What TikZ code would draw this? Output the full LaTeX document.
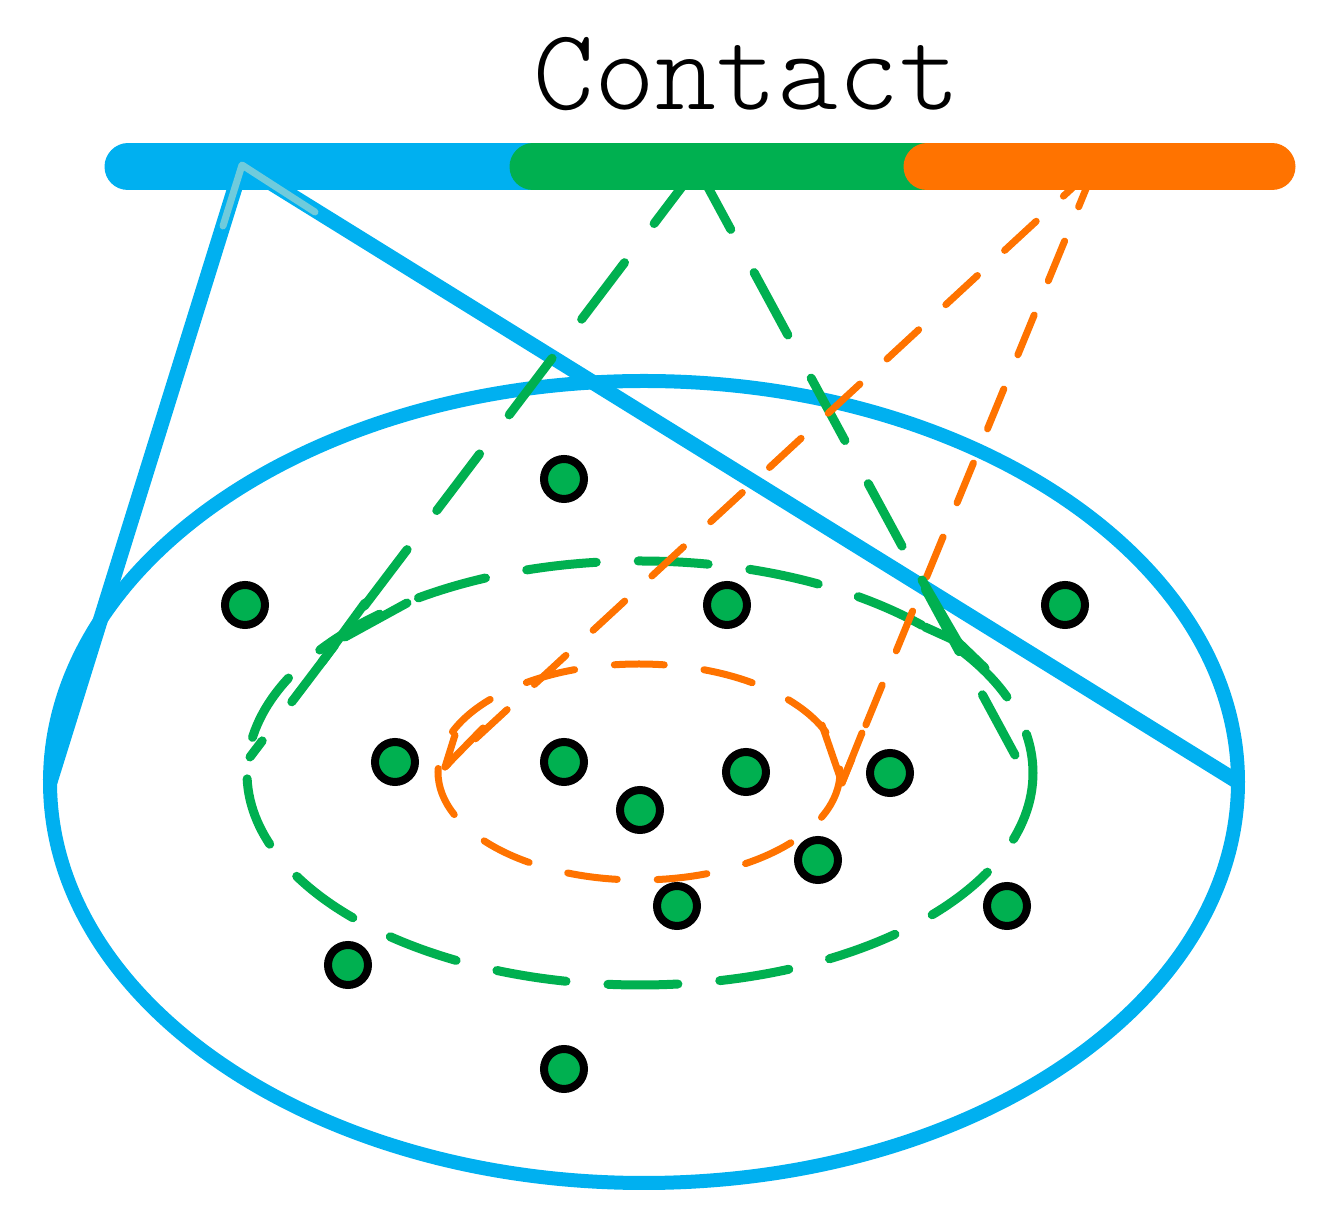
\documentclass[tikz,border=0pt]{standalone}
\usepackage{fontspec}
\newfontfamily\titlefont{lmmonolt10-regular.otf}
\definecolor{skyblue}{HTML}{00B0F0}
\definecolor{leafgreen}{HTML}{00B050}
\definecolor{flame}{HTML}{FF7300}
\definecolor{paleblue}{HTML}{6FCBDC}
\begin{document}
\begin{tikzpicture}[x=0.5pt, y=-0.5pt,
    sensor/.style ={circle, draw=black, fill=leafgreen, line width=4pt,
                    minimum size=20pt, inner sep=0pt},
    cover/.style  ={draw=skyblue, line width=7.5pt, line join=round},
    band/.style   ={line width=23.5pt, line cap=round},
    greenring/.style ={draw=leafgreen, line width=4.5pt, line cap=round,
                       dash pattern=on 35pt off 21pt},
    greenray/.style  ={draw=leafgreen, line width=4.5pt, line cap=round,
                       dash pattern=on 35.5pt off 24.5pt},
    orangering/.style={draw=flame, line width=3.5pt, line cap=round,
                       dash pattern=on 25pt off 20pt},
    orangeray/.style ={draw=flame, line width=3.5pt, line cap=round,
                       dash pattern=on 21.5pt off 18.5pt},
    tipmark/.style={line cap=round, line join=round}]
   \useasboundingbox (0,0) rectangle (1341,1218);
   % coverage area
   \draw[cover, line width=7pt] (644,782) ellipse [x radius=594, y radius=401];
   \coordinate (apex) at (242,165);
   \coordinate (rimL) at (50,782);
   \coordinate (rimR) at (1238,782);
   \draw[cover] (rimL) -- (apex) -- (rimR);
   % contact rings
   \draw[greenring] (640,773) ellipse [x radius=393, y radius=212];
   \coordinate (gsrc) at (697,167);
   \coordinate (gendL) at (250,757);
   \coordinate (gendR) at (1015,755);
   \draw[greenray] (gsrc) -- (gendL);
   \draw[greenray] (gsrc) -- (gendR);
   \draw[orangering] (639,772) ellipse [x radius=201, y radius=108];
   \coordinate (osrc) at (1095,167);
   \coordinate (otipL) at (445,767);
   \coordinate (otipR) at (842,783);
   \draw[orangeray] (osrc) -- (otipL);
   \draw[orangeray] (osrc) -- (otipR);
   % arrow marks
   \coordinate (gtipL) at (345,637);
   \coordinate (gtipR) at (958,642);
   \draw[greenray, solid, tipmark] (365,603) -- (322,662);
   \draw[greenray, solid, tipmark] (407,603) -- (gtipL);
   \draw[greenray, solid, tipmark] (922,580) -- (gtipR);
   \draw[greenray, solid, tipmark] (925,627) -- (gtipR) -- (985,668);
   \draw[orangeray, solid, tipmark] (483,728) -- (otipL) -- (455,735);
   \draw[orangeray, solid, tipmark] (862,733) -- (otipR) -- (822,725);
   % sensors
   \node[sensor] (s1)  at (564,479)  {};
   \node[sensor] (s2)  at (245,605)  {};
   \node[sensor] (s3)  at (727,605)  {};
   \node[sensor] (s4)  at (1065,605) {};
   \node[sensor] (s5)  at (395,762)  {};
   \node[sensor] (s6)  at (564,762)  {};
   \node[sensor] (s7)  at (746,772)  {};
   \node[sensor] (s8)  at (890,773)  {};
   \node[sensor] (s9)  at (640,810)  {};
   \node[sensor] (s10) at (818,860)  {};
   \node[sensor] (s11) at (677,906)  {};
   \node[sensor] (s12) at (1007,906) {};
   \node[sensor] (s13) at (348,965)  {};
   \node[sensor] (s14) at (564,1069) {};
   % contact band
   \draw[band, skyblue] (128,167) -- (533,167);
   \draw[band, leafgreen] (533,167) -- (927,167);
   \draw[band, flame] (927,167) -- (1272,167);
   \draw[paleblue, line width=3.5pt, tipmark] (223,226) -- (apex) -- (315,212);
   \node[font=\titlefont\fontsize{58}{60}\selectfont, anchor=base, inner sep=0pt]
        (title) at (747,110) {Contact};
\end{tikzpicture}
\end{document}
